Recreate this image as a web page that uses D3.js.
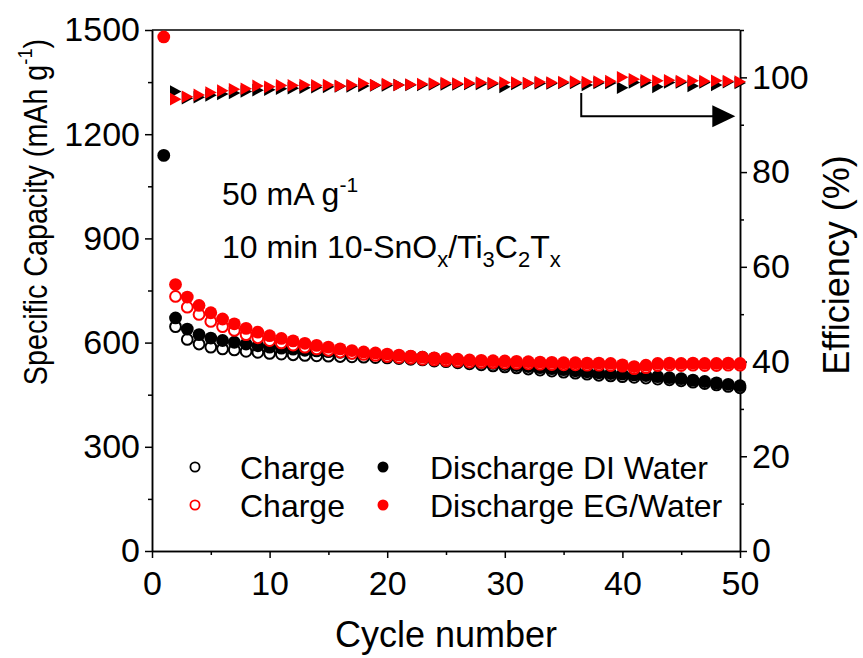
<!DOCTYPE html>
<html><head><meta charset="utf-8">
<script src="https://cdn.jsdelivr.net/npm/d3@7"></script>
<style>body{margin:0;background:#fff} text{font-family:Arial,"Liberation Sans",sans-serif;fill:#000}</style>
</head><body><svg id="c" width="863" height="658"></svg>
<script>
// ---------- data ----------
const cyclesAll = [1,2,3,4,5,6,7,8,9,10,11,12,13,14,15,16,17,18,19,20,21,22,23,24,25,26,27,28,29,30,31,32,33,34,35,36,37,38,39,40,41,42,43,44,45,46,47,48,49,50];
const cyclesFrom2 = [2,3,4,5,6,7,8,9,10,11,12,13,14,15,16,17,18,19,20,21,22,23,24,25,26,27,28,29,30,31,32,33,34,35,36,37,38,39,40,41,42,43,44,45,46,47,48,49,50];

const dischargeDI = [1139,671,639,623,613,606,601,596,591,587, 584,581,578,576,574,572,570,568,566,564, 562,560,558,555,552,549,546,543,540,537, 534,531,528,525,522,519,516,513,511,509, 507,505,502,499,496,492,488,484,480,476];
const chargeDI = [646,609,596,587,582,579,575,572,569,567, 565,563,562,561,560,559,558,557,556,554, 552,550,547,545,542,539,536,533,530,527, 524,521,518,515,512,509,506,504,502,500, 498,495,493,490,486,482,478,474,470];
const dischargeEG = [1480,767,731,707,686,668,654,641,630,620, 612,605,598,592,587,582,577,573,570,567, 564,561,558,556,554,552,550,549,548,547, 546,545,544,543,542,542,541,541,540,536, 531,535,540,541,540,541,540,540,541,540];
const chargeEG = [733,702,681,661,646,635,623,614,606,599, 593,587,582,578,573,569,566,563,560,557, 555,552,550,548,546,544,543,542,541,540, 539,538,537,536,536,535,535,534,532,525, 528,534,535,534,535,534,534,535,535];
const effDI = [97.0,95.6,95.8,96.2,96.5,96.7,97.0,97.3,97.4,97.6, 97.7,97.8,97.9,98.0,98.1,98.1,98.2,98.3,98.3,98.4, 98.4,98.4,98.5,98.5,98.5,98.6,98.6,98.6,98.0,98.6, 98.7,98.7,98.7,98.8,98.8,98.4,98.8,98.8,97.8,98.9, 98.9,98.0,98.9,98.9,98.2,98.9,98.4,99.0,98.8];
const effEG = [95.4,95.9,96.3,96.8,97.2,97.5,97.6,98.2,98.0,98.3, 98.3,98.4,98.3,98.4,98.2,98.4,98.7,98.4,98.6,98.4, 98.5,98.6,98.7,98.8,98.7,98.8,98.9,98.8,98.9,98.9, 98.8,99.0,98.9,99.0,99.1,99.0,99.1,99.2,100.0,99.6, 99.4,99.3,99.4,99.2,99.3,99.2,99.3,99.2,99.1];

const xTicks = [0,10,20,30,40,50];
const xMinor = [5,15,25,35,45];
const yLTicks = [0,300,600,900,1200,1500];
const yLMinor = [150,450,750,1050,1350];
const yRTicks = [0,20,40,60,80,100];
const yRMinor = [10,30,50,70,90,110];

// ---------- layout ----------
const svg = d3.select("#c");
const L = 152, R = 740, T = 30, B = 551;
const x = d3.scaleLinear().domain([0,50]).range([L,R]);
const yL = d3.scaleLinear().domain([0,1500]).range([B,T]);
const yR = d3.scaleLinear().domain([0,110]).range([B,T]);
const FS = 34;
const fmt = d3.format("d");

function styleAxis(g){
  g.selectAll("path,line").attr("stroke","#000").attr("stroke-width",1.5);
  g.selectAll("text").style("font-size",FS+"px").attr("fill","#000");
}
svg.append("g").attr("transform",`translate(0,${B})`)
  .call(d3.axisBottom(x).tickValues(xTicks).tickFormat(fmt).tickSize(7).tickSizeOuter(0).tickPadding(5))
  .call(styleAxis).call(g=>g.selectAll("text").attr("dy","0.95em"));
svg.append("g").attr("transform",`translate(0,${B})`)
  .call(d3.axisBottom(x).tickValues(xMinor).tickSize(4).tickFormat("").tickSizeOuter(0))
  .call(styleAxis);
svg.append("g").attr("transform",`translate(${L},0)`)
  .call(d3.axisLeft(yL).tickValues(yLTicks).tickFormat(fmt).tickSize(7).tickSizeOuter(0).tickPadding(5))
  .call(styleAxis);
svg.append("g").attr("transform",`translate(${L},0)`)
  .call(d3.axisLeft(yL).tickValues(yLMinor).tickSize(4).tickFormat("").tickSizeOuter(0))
  .call(styleAxis);
svg.append("g").attr("transform",`translate(${R},0)`)
  .call(d3.axisRight(yR).tickValues(yRTicks).tickFormat(fmt).tickSize(7).tickSizeOuter(0).tickPadding(5))
  .call(styleAxis);
svg.append("g").attr("transform",`translate(${R},0)`)
  .call(d3.axisRight(yR).tickValues(yRMinor).tickSize(4).tickFormat("").tickSizeOuter(0))
  .call(styleAxis);
svg.append("line").attr("x1",L).attr("x2",R).attr("y1",T).attr("y2",T).attr("stroke","#000").attr("stroke-width",1.5);

// ---------- marks ----------
const r = 6.4;
function circles(xs, ys, color, filled){
  svg.append("g").selectAll("circle").data(ys).join("circle")
    .attr("cx",(d,i)=>x(xs[i])).attr("cy",d=>yL(d)).attr("r",filled? r : r-1)
    .attr("fill",filled? color : "#fff").attr("stroke",color).attr("stroke-width",filled?0:2);
}
const tri = "M-5.5,-6.3 L6,0 L-5.5,6.3 Z";
function triangles(xs, ys, color){
  svg.append("g").selectAll("path").data(ys).join("path")
    .attr("d",tri).attr("transform",(d,i)=>`translate(${x(xs[i])},${yR(d)})`)
    .attr("fill",color);
}
circles(cyclesFrom2, chargeDI, "#000", false);
circles(cyclesAll, dischargeDI, "#000", true);
circles(cyclesFrom2, chargeEG, "#ff0000", false);
circles(cyclesAll, dischargeEG, "#ff0000", true);
triangles(cyclesFrom2, effDI, "#000");
triangles(cyclesFrom2, effEG, "#ff0000");

// arrow to right axis
const ax0 = x(36.5), ay0 = yR(96.7), ay1 = yR(91.8), axTip = x(49.6);
svg.append("path").attr("d",`M${ax0},${ay0} L${ax0},${ay1} L${axTip-20},${ay1}`)
  .attr("fill","none").attr("stroke","#000").attr("stroke-width",2);
svg.append("path").attr("d",`M${axTip-23},${ay1-11} L${axTip},${ay1} L${axTip-23},${ay1+11} Z`).attr("fill","#000");

// ---------- texts ----------
const yl = svg.append("text").attr("transform","translate(47,212) rotate(-90) scale(0.87,1)")
  .attr("text-anchor","middle").style("font-size","33px");
yl.append("tspan").text("Specific Capacity (mAh g");
yl.append("tspan").attr("dy","-0.7em").style("font-size","21px").text("-1");
yl.append("tspan").attr("dy","0.45em").text(")");

svg.append("text").attr("transform","translate(849,265) rotate(-90)")
  .attr("text-anchor","middle").style("font-size","36px").text("Efficiency (%)");

svg.append("text").attr("x",(L+R)/2).attr("y",647).attr("text-anchor","middle")
  .style("font-size","36px").text("Cycle number");

const a1 = svg.append("text").attr("x",222).attr("y",205).style("font-size","32px");
a1.append("tspan").text("50 mA g");
a1.append("tspan").attr("dy","-0.6em").style("font-size","21px").text("-1");

const a2 = svg.append("text").attr("x",222).attr("y",258).style("font-size","32px");
a2.append("tspan").text("10 min 10-SnO");
a2.append("tspan").attr("dy","9").style("font-size","22px").text("x");
a2.append("tspan").attr("dy","-9").text("/Ti");
a2.append("tspan").attr("dy","9").style("font-size","22px").text("3");
a2.append("tspan").attr("dy","-9").text("C");
a2.append("tspan").attr("dy","9").style("font-size","22px").text("2");
a2.append("tspan").attr("dy","-9").text("T");
a2.append("tspan").attr("dy","9").style("font-size","22px").text("x");

// legend
const legRows = [
  {y:467, c1:"#000", t1:"Charge", c2:"#000", t2:"Discharge DI Water"},
  {y:505, c1:"#ff0000", t1:"Charge", c2:"#ff0000", t2:"Discharge EG/Water"}
];
const lg = svg.append("g");
legRows.forEach(rw=>{
  lg.append("circle").attr("cx",195).attr("cy",rw.y).attr("r",4.6).attr("fill","#fff").attr("stroke",rw.c1).attr("stroke-width",1.8);
  lg.append("text").attr("x",240).attr("y",rw.y).attr("dy","0.36em").style("font-size","32px").text(rw.t1);
  lg.append("circle").attr("cx",383).attr("cy",rw.y).attr("r",5.5).attr("fill",rw.c2);
  lg.append("text").attr("x",430).attr("y",rw.y).attr("dy","0.36em").style("font-size","32px").text(rw.t2);
});
</script></body></html>
